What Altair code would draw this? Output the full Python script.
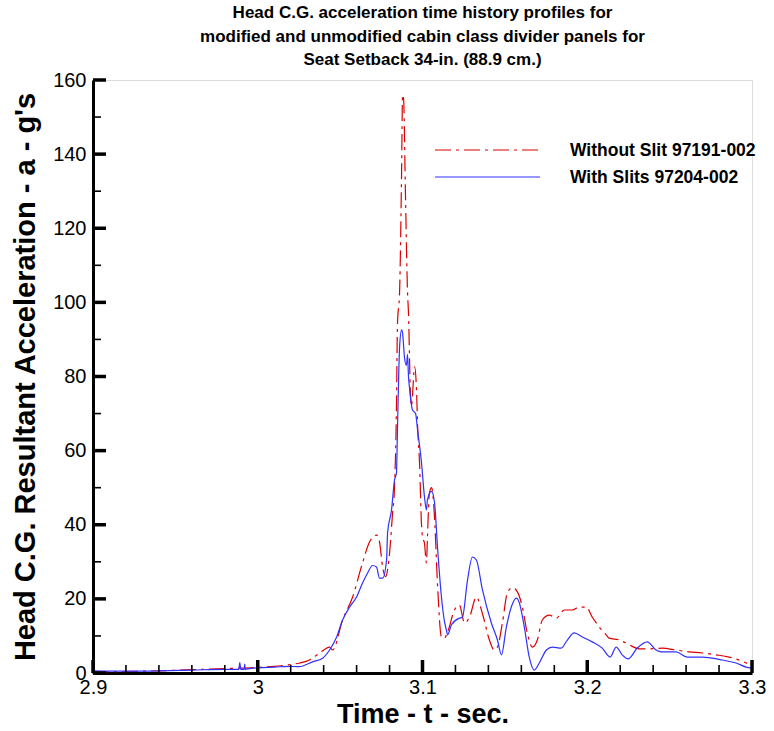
import altair as alt
import pandas as pd

# ---- data ----
series_names = ["Without Slit 97191-002", "With Slits 97204-002"]

red_t = [2.900, 2.920, 2.940, 2.960, 2.980, 3.000, 3.010, 3.020, 3.0255, 3.0315, 3.0376, 3.0436,
         3.0455, 3.0515, 3.0576, 3.0636, 3.0679, 3.0721, 3.0739, 3.0758, 3.0776, 3.0800, 3.0818,
         3.0830, 3.0842, 3.0848, 3.0861, 3.0873, 3.0879, 3.0885, 3.0897, 3.0909, 3.0915, 3.0927,
         3.0933, 3.0952, 3.0964, 3.0970, 3.0982, 3.0994, 3.1000, 3.1012, 3.1024, 3.1030, 3.1042,
         3.1055, 3.1073, 3.1091, 3.1115, 3.1133, 3.1152, 3.1194, 3.1224, 3.1255, 3.1285, 3.1327,
         3.1364, 3.1406, 3.1436, 3.1455, 3.1485, 3.1515, 3.1545, 3.1576, 3.1606, 3.1636, 3.1667,
         3.1697, 3.1727, 3.1770, 3.1812, 3.1861, 3.1909, 3.1952, 3.1994, 3.2030, 3.2073, 3.2115,
         3.2133, 3.2194, 3.2255, 3.2315, 3.2376, 3.2455, 3.2539, 3.2618, 3.2697, 3.2782, 3.2861,
         3.2939, 3.2970]
red_a = [0.3, 0.4, 0.6, 0.9, 1.2, 1.5, 1.8, 2.3, 2.7, 3.5, 5.4, 7.0,
         6.2, 14.3, 20.5, 29.7, 35.4, 37.2, 35.4, 28.6, 26.0, 32.4, 43.0,
         50.0, 72.0, 94.0, 103.0, 135.0, 156.0, 155.0, 128.0, 103.0, 97.0, 75.0,
         72.0, 82.6, 76.0, 67.0, 56.7, 40.0, 36.7, 35.0, 29.7, 36.7, 48.6,
         50.0, 42.0, 24.0, 9.7, 9.4, 11.0, 17.0, 18.3, 13.5, 15.0, 20.5,
         16.0, 8.9, 6.2, 7.0, 13.5, 21.6, 23.0, 21.9, 17.8, 10.8, 7.0,
         8.9, 14.3, 15.6, 14.8, 17.0, 17.0, 17.8, 17.8, 15.1, 12.4, 10.3,
         9.4, 8.9, 7.6, 6.5, 6.5, 6.7, 6.2, 5.7, 5.4, 4.9, 4.3,
         3.2, 2.6]

blue_t = [2.900, 2.920, 2.940, 2.960, 2.980, 2.9885, 2.9891, 2.9897, 2.9918, 2.9921, 2.9924,
          2.995, 3.000, 3.010, 3.020,
          3.025, 3.0333, 3.0394, 3.0436, 3.0479, 3.0515, 3.0558, 3.0600, 3.0636, 3.0667, 3.0697,
          3.0721, 3.0739, 3.0758, 3.0782, 3.0788, 3.0812, 3.0830, 3.0842, 3.0848, 3.0861, 3.0873,
          3.0879, 3.0891, 3.0903, 3.0909, 3.0915, 3.0921, 3.0939, 3.0958, 3.0970, 3.0994, 3.1012,
          3.1024, 3.1030, 3.1055, 3.1073, 3.1091, 3.1115, 3.1133, 3.1145, 3.1152, 3.1176, 3.1224,
          3.1242, 3.1273, 3.1303, 3.1327, 3.1364, 3.1418, 3.1455, 3.1479, 3.1509, 3.1539, 3.1570,
          3.1588, 3.1618, 3.1648, 3.1679, 3.1709, 3.1752, 3.1788, 3.1842, 3.1879, 3.1921, 3.1970,
          3.2030, 3.2091, 3.2139, 3.2176, 3.2212, 3.2248, 3.2303, 3.2364, 3.2418, 3.2448, 3.2539,
          3.2606, 3.2697, 3.2758, 3.2818, 3.2903, 3.2964, 3.3000]
blue_a = [0.6, 0.5, 0.6, 0.8, 1.0, 1.0, 2.8, 1.0, 1.0, 2.4, 1.0,
          1.2, 1.4, 1.6, 1.8,
          1.7, 3.0, 4.0, 6.2, 9.7, 14.3, 17.8, 20.5, 24.3, 27.0, 29.0,
          28.6, 25.6, 25.6, 30.5, 37.8, 44.0, 52.0, 54.0, 65.6, 88.0, 92.6,
          91.7, 85.0, 83.0, 86.0, 80.0, 77.0, 71.0, 70.0, 65.6, 56.7, 47.5,
          44.0, 46.7, 49.0, 46.0, 34.0, 20.5, 14.0, 11.6, 10.3, 13.0, 14.8,
          15.0, 25.0, 31.3, 30.5, 22.4, 13.5, 8.9, 4.9, 12.4, 17.8, 20.2,
          18.9, 12.4, 4.3, 0.8, 2.7, 6.2, 7.0, 6.7, 8.9, 10.8, 9.7,
          8.4, 6.7, 4.3, 7.0, 4.9, 3.8, 6.7, 8.4, 6.2, 5.7, 5.7,
          4.3, 4.3, 4.0, 3.5, 2.7, 1.6, 1.3]

x_major = [2.9, 3.0, 3.1, 3.2, 3.3]
x_minor = [2.92, 2.94, 2.96, 2.98, 3.02, 3.04, 3.06, 3.08, 3.12, 3.14, 3.16, 3.18,
           3.22, 3.24, 3.26, 3.28]
y_major = [0, 20, 40, 60, 80, 100, 120, 140, 160]
y_minor = [10, 30, 50, 70, 90, 110, 130, 150]

title_lines = ["Head C.G. acceleration time history profiles for",
               "modified and unmodified cabin class divider panels for",
               "Seat Setback 34-in. (88.9 cm.)"]
x_title = "Time - t - sec."
y_title = "Head C.G. Resultant Acceleration - a - g's"

# ---- build chart ----
W, H = 659, 593
FONT = "Liberation Sans"
RED = "#dd0000"
BLUE = "#3030ff"
DASH = [16, 5, 3, 5]

red_df = pd.DataFrame({"t": red_t, "a": red_a})
blue_df = pd.DataFrame({"t": blue_t, "a": blue_a})

xs = alt.Scale(domain=[2.9, 3.3], nice=False, zero=False)
ys = alt.Scale(domain=[0, 160], nice=False, zero=True)

x_axis = alt.Axis(values=x_major, format="~g", title=x_title, grid=False, ticks=False,
                  domainWidth=3, domainColor="black", labelFontSize=20, labelFont=FONT,
                  labelColor="black", labelPadding=4, titleFont=FONT, titleFontSize=27,
                  titleFontWeight="bold", titleColor="black", titlePadding=4, labelFlush=False)
y_axis = alt.Axis(values=y_major, format="d", title=y_title, grid=False, ticks=False,
                  domainWidth=3, domainColor="black", labelFontSize=20, labelFont=FONT,
                  labelColor="black", labelPadding=7, titleFont=FONT, titleFontSize=29,
                  titleFontWeight="bold", titleColor="black", titlePadding=12, labelFlush=False)

red_line = alt.Chart(red_df).mark_line(
    color=RED, strokeDash=DASH, strokeWidth=1.2, interpolate="monotone", clip=True
).encode(x=alt.X("t:Q", scale=xs, axis=x_axis), y=alt.Y("a:Q", scale=ys, axis=y_axis))

blue_line = alt.Chart(blue_df).mark_line(
    color=BLUE, strokeWidth=1.2, interpolate="monotone", clip=True
).encode(x=alt.X("t:Q", scale=xs, axis=x_axis), y=alt.Y("a:Q", scale=ys, axis=y_axis))

xmaj = alt.Chart(pd.DataFrame({"t": x_major})).mark_rule(color="black", strokeWidth=3.5).encode(
    x=alt.X("t:Q", scale=xs, axis=x_axis), y=alt.value(H), y2=alt.value(H - 13))
xmin = alt.Chart(pd.DataFrame({"t": x_minor})).mark_rule(color="black", strokeWidth=1.6).encode(
    x=alt.X("t:Q", scale=xs, axis=x_axis), y=alt.value(H), y2=alt.value(H - 8))
ymaj = alt.Chart(pd.DataFrame({"a": y_major})).mark_rule(color="black", strokeWidth=3.5).encode(
    y=alt.Y("a:Q", scale=ys, axis=y_axis), x=alt.value(0), x2=alt.value(13))
ymin = alt.Chart(pd.DataFrame({"a": y_minor})).mark_rule(color="black", strokeWidth=1.6).encode(
    y=alt.Y("a:Q", scale=ys, axis=y_axis), x=alt.value(0), x2=alt.value(8))

leg_df = pd.DataFrame({"name": series_names})
leg_red = alt.Chart(leg_df.iloc[[0]]).mark_rule(color=RED, strokeDash=DASH, strokeWidth=1.2).encode(
    x=alt.value(342), x2=alt.value(447), y=alt.value(70))
leg_blue = alt.Chart(leg_df.iloc[[1]]).mark_rule(color=BLUE, strokeWidth=1.2).encode(
    x=alt.value(342), x2=alt.value(447), y=alt.value(97))
leg_red_t = alt.Chart(leg_df.iloc[[0]]).mark_text(
    align="left", baseline="middle", font=FONT, fontSize=17.5, fontWeight="bold", color="black"
).encode(text="name:N", x=alt.value(477), y=alt.value(71))
leg_blue_t = alt.Chart(leg_df.iloc[[1]]).mark_text(
    align="left", baseline="middle", font=FONT, fontSize=17.5, fontWeight="bold", color="black"
).encode(text="name:N", x=alt.value(477), y=alt.value(98))

chart = alt.layer(
    red_line, blue_line, xmaj, xmin, ymaj, ymin, leg_red, leg_blue, leg_red_t, leg_blue_t
).properties(
    width=W, height=H,
    title=alt.TitleParams(text=title_lines, font=FONT, fontSize=17, fontWeight="bold",
                          color="black", anchor="middle", frame="group", lineHeight=23.5,
                          offset=1),
    autosize=alt.AutoSizeParams(type="none"),
    padding={"left": 93, "top": 80, "right": 22, "bottom": 58},
).configure_view(stroke=None).configure(background="white")

chart.save("out.html", embed_options={"renderer": "svg", "actions": False})
